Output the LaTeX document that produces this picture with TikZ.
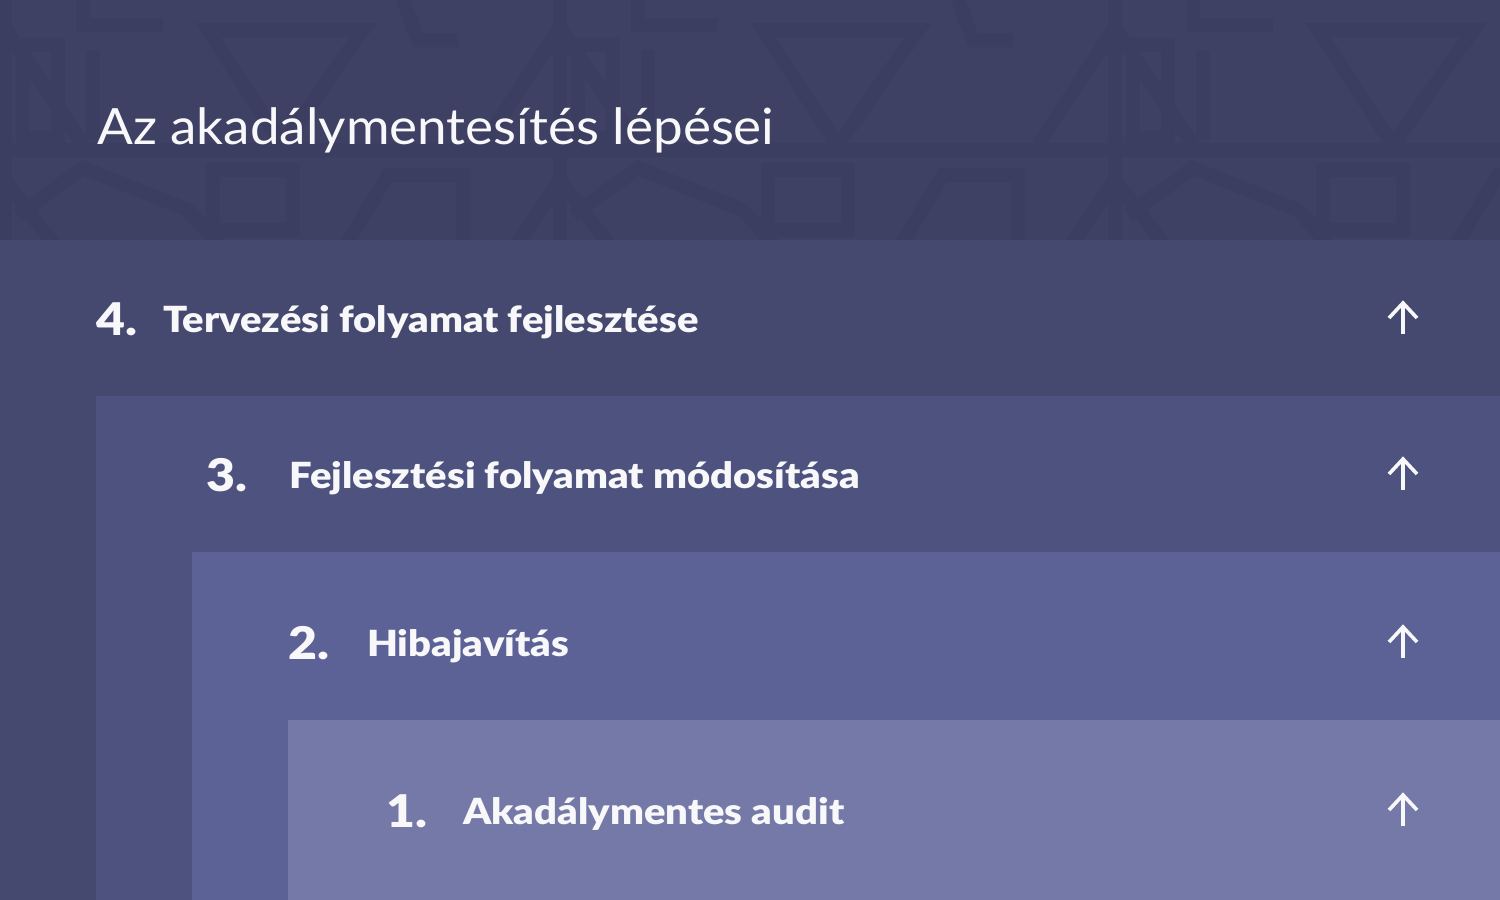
\documentclass[tikz,border=0pt]{standalone}
\usepackage{fontspec}
\setmainfont{Lato}
\newfontfamily\titlefont[FakeStretch=1.06]{Lato}
\newfontfamily\heavyfont[FakeStretch=1.11]{Lato Black}
\usetikzlibrary{calc}
\definecolor{hdr}{HTML}{3F4164}
\definecolor{pat}{HTML}{3C3E61}
\definecolor{bandD}{HTML}{46496F}
\definecolor{bandC}{HTML}{4D527E}
\definecolor{bandB}{HTML}{5D6296}
\definecolor{bandA}{HTML}{7579A8}
\definecolor{ink}{HTML}{F8F8FA}
\tikzset{
  patline/.style={draw=pat, line width=14pt, line join=miter},
  titlelbl/.style={inner sep=0pt, anchor=base west, text=ink, font=\titlefont\fontsize{50}{60}\selectfont},
  numlbl/.style={inner sep=0pt, anchor=base west, text=ink, font=\heavyfont\fontsize{45}{54}\selectfont},
  steplbl/.style={inner sep=0pt, anchor=base west, text=ink, font=\heavyfont\fontsize{36}{43}\selectfont},
  arr/.style={draw=ink, line width=3.6pt, line cap=butt, line join=miter},
}
\begin{document}
\begin{tikzpicture}[x=1pt,y=-1pt]
\useasboundingbox (0,0) rectangle (1500,900);
% header with faint pattern
\fill[hdr] (0,0) rectangle (1500,240);
\begin{scope}
\clip (0,0) rectangle (1500,240);
\foreach \cx in {-272,283,838,1393} {
  % kite
  \draw[patline] (\cx-75,30) -- (\cx,145) -- (\cx+80,30) -- cycle;
  % inverted kite between
  \draw[patline] (\cx+200,145) -- (\cx+277,28) -- (\cx+355,145);
  % vertical frame
  \draw[patline] (\cx-260,45) rectangle (\cx-225,138);
  \draw[patline] (\cx-190,50) -- (\cx-190,140);
  % upper small pieces
  \draw[patline] (\cx-200,-5) -- (\cx-200,25) -- (\cx-120,25);
  \draw[patline] (\cx+120,0) -- (\cx+135,40) -- (\cx+175,40);
  % horizontal band
  \draw[patline] (\cx-278,150) -- (\cx+278,150);
  % lower chevrons
  \draw[patline] (\cx-265,215) -- (\cx-200,168) -- (\cx-95,210) -- (\cx-60,250);
  \draw[patline] (\cx-70,170) rectangle (\cx+10,230);
  \draw[patline] (\cx+60,250) -- (\cx+105,175) -- (\cx+180,175) -- (\cx+180,250);
  \draw[patline] (\cx+230,250) -- (\cx+277,180) -- (\cx+330,250);
  % vertical separators
  \draw[patline] (\cx-278,0) -- (\cx-278,240);
}
\end{scope}
% nested bands
\fill[bandD] (0,240) rectangle (1500,900);
\fill[bandC] (96,396) rectangle (1500,900);
\fill[bandB] (192,552) rectangle (1500,900);
\fill[bandA] (288,720) rectangle (1500,900);
% title
\node[titlelbl] (title) at (97,144) {Az akadálymentesítés lépései};
% step 4
\node[numlbl] (n4) at (96,335) {4.};
\node[steplbl] (t4) at (163,332) {Tervezési folyamat fejlesztése};
% step 3
\node[numlbl] (n3) at (206,491) {3.};
\node[steplbl] (t3) at (289,488) {Fejlesztési folyamat módosítása};
% step 2
\node[numlbl] (n2) at (288,659) {2.};
\node[steplbl] (t2) at (367,656) {Hibajavítás};
% step 1
\node[numlbl] (n1) at (386,827) {1.};
\node[steplbl] (t1) at (463,824) {Akadálymentes audit};
% arrows
\foreach \i/\c in {4/318,3/474,2/642,1/810} {
  \coordinate (b\i) at (1403,\c+16);
  \coordinate (h\i) at (1403,\c-15);
  \coordinate (l\i) at (1389,\c);
  \coordinate (r\i) at (1417,\c);
  \draw[arr] (b\i) -- (h\i);
  \draw[arr] (l\i) -- (h\i) -- (r\i);
}
\end{tikzpicture}
\end{document}
